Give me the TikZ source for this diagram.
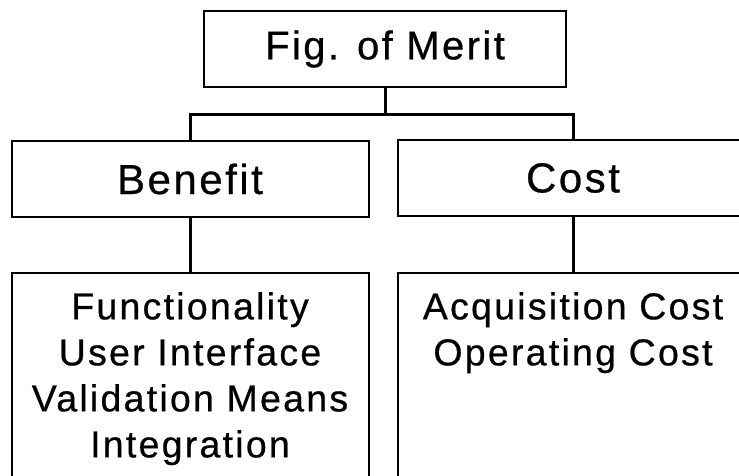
\documentclass[tikz,border=0pt]{standalone}
\usepackage{fontspec}
\setmainfont{Liberation Sans}[LetterSpace=6,FakeBold=0.6]
\usetikzlibrary{positioning,calc}

\tikzset{
	box/.style={draw, line width=2pt, inner sep=0pt},
	headbox/.style={box, minimum height=76pt, font=\fontsize{42}{50}\selectfont},
	listbox/.style={box, anchor=north, minimum height=260pt},
	listtext/.style={align=center, inner sep=0pt, font=\fontsize{37.5}{46}\selectfont},
	wire/.style={line width=3pt},
}

\begin{document}
\begin{tikzpicture}[x=1pt,y=-1pt]
	\useasboundingbox (0,0) rectangle (739,475);
	\clip (0,0) rectangle (739,475);
	
	\node[headbox, minimum width=362pt, font=\fontsize{40}{48}\selectfont] (merit) at (385,49) {Fig. of Merit};
	\node[headbox, minimum width=357pt] (benefit) at (190,179) {Benefit};
	\node[headbox, minimum width=350pt] (cost) at (573,178) {Cost};
	
	\node[listbox, minimum width=357pt] (benlist) at (190,272) {};
	\node[listtext, below=20pt of benlist.north] (bentext) {Functionality\\User Interface\\Validation Means\\Integration};
	\node[listbox, minimum width=350pt] (costlist) at (573,272) {};
	\node[listtext, below=20pt of costlist.north] (costtext) {Acquisition Cost\\Operating Cost};
	
	\coordinate (fork) at ($(merit.south)+(0,26)$);
	\draw[wire] (merit.south) -- (fork);
	\draw[wire] (benefit.north) |- (fork) -| (cost.north);
	\draw[wire] (benefit.south) -- (benlist.north);
	\draw[wire] (cost.south) -- (costlist.north);
\end{tikzpicture}
\end{document}
